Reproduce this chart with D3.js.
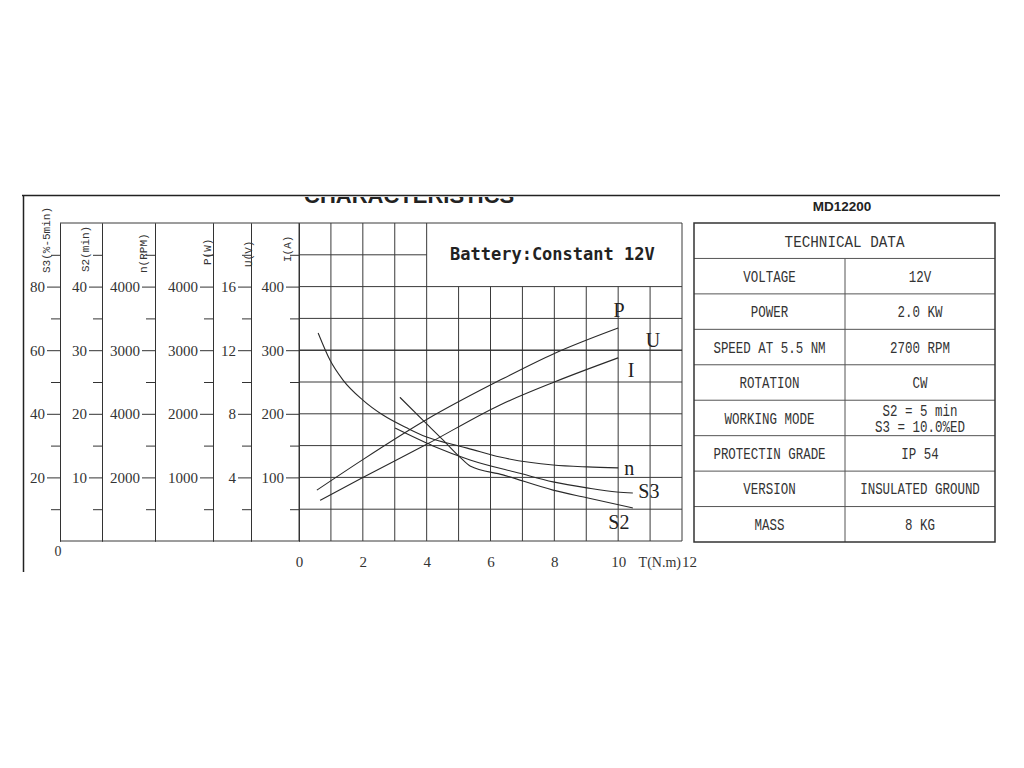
<!DOCTYPE html>
<html>

<head>
    <meta charset="utf-8">
    <style>
        body {
            margin: 0;
            background: #fff;
        }

        svg {
            display: block;
        }

        .left .tick text,
        .bottom .tick text {
            font-family: "Liberation Serif", serif;
            font-size: 15px;
            fill: #333;
        }

        .left .tick line,
        .left .domain {
            stroke: #333;
        }

        .grid line {
            stroke: #3a3a3a;
            stroke-width: 1;
        }

        .curve {
            fill: none;
            stroke: #2a2a2a;
            stroke-width: 1.1;
        }
    </style>
</head>

<body>
    <svg width="1024" height="768"></svg>
</body>

<script src="https://d3js.org/d3.v7.min.js"></script>

<script>

    // torque axis (N.m)
    let torqueTicks = [0, 2, 4, 6, 8, 10]

    // left hand axes
    let axisNames = ["S3(%-5min)", "S2(min)", "n(RPM)", "P(W)", "U(V)", "I(A)"]
    let axisMax = [100, 50, 5000, 5000, 20, 500]
    let s3Ticks = [80, 60, 40, 20]
    let s2Ticks = [40, 30, 20, 10]
    let nTicks = [4000, 3000, 2000, 1000]
    let nTickLabels = ["4000", "3000", "4000", "2000"]  // printed like this on the sheet
    let pTicks = [4000, 3000, 2000, 1000]
    let uTicks = [16, 12, 8, 4]
    let iTicks = [400, 300, 200, 100]

    // curves
    let pTorque = [0.56, 2, 4, 6.3, 8, 10]
    let pWatts = [800, 1280, 1910, 2530, 2950, 3350]

    let iTorque = [0.66, 2, 4, 6.3, 8, 10]
    let iAmps = [64, 100, 152, 214, 250, 288]

    let uTorque = [0, 12]
    let uVolts = [12, 12]

    let nTorque = [0.6, 0.97, 1.38, 2.0, 2.63, 3.39, 4.0, 4.64, 5.27, 6.3, 7.96, 9.03, 10]
    let nRpm = [3270, 2845, 2530, 2215, 1980, 1775, 1635, 1540, 1460, 1320, 1195, 1165, 1150]

    let s3Torque = [3.01, 4.2, 5.36, 6.92, 7.96, 9.02, 9.96, 10.46]
    let s3Percent = [35.5, 29.9, 25.5, 21.3, 18.6, 16.7, 15.4, 15.1]

    let s2Torque = [3.16, 3.88, 4.51, 5.04, 5.36, 6.39, 7.96, 9.02, 10.46]
    let s2Minutes = [22.6, 19.0, 15.9, 13.2, 11.8, 10.4, 8.0, 6.8, 5.2]

    // technical data table
    let tableTitle = "TECHNICAL DATA"
    let tableLabels = ["VOLTAGE", "POWER", "SPEED AT 5.5 NM", "ROTATION", "WORKING MODE",
        "PROTECTIN GRADE", "VERSION", "MASS"]
    let tableValues = [["12V"], ["2.0 KW"], ["2700 RPM"], ["CW"], ["S2 = 5 min", "S3 = 10.0%ED"],
        ["IP 54"], ["INSULATED GROUND"], ["8 KG"]]


    let svg = d3.select("svg")

    let x = d3.scaleLinear().domain([0, 12]).range([299, 682])
    let y = d3.scaleLinear().domain([0, 100]).range([541, 223])

    // frame of the sheet
    svg.append("line")
        .attr("x1", 22).attr("x2", 1000)
        .attr("y1", 195.5).attr("y2", 195.5)
        .style("stroke", "#222").style("stroke-width", 1.5)

    svg.append("line")
        .attr("x1", 23.5).attr("x2", 23.5)
        .attr("y1", 195).attr("y2", 572)
        .style("stroke", "#222").style("stroke-width", 1.5)

    // title, cut by the top of the scan
    svg.append("clipPath").attr("id", "cut")
        .append("rect").attr("x", 0).attr("y", 197).attr("width", 1024).attr("height", 100)

    svg.append("text")
        .attr("clip-path", "url(#cut)")
        .attr("x", 304)
        .attr("y", 203)
        .style("font-family", "Liberation Sans, sans-serif")
        .style("font-weight", "bold")
        .style("font-size", "22px")
        .style("fill", "#222")
        .text("CHARACTERISTICS")

    svg.append("text")
        .attr("x", 842)
        .attr("y", 211)
        .style("text-anchor", "middle")
        .style("font-family", "Liberation Sans, sans-serif")
        .style("font-weight", "bold")
        .style("font-size", "13.5px")
        .style("fill", "#222")
        .text("MD12200")


    // grid of the plot
    let grid = svg.append("g").attr("class", "grid")

    grid.selectAll(".vline")
        .data(x.ticks(12))
        .join("line")
        .attr("class", "vline")
        .attr("x1", function (d) { return x(d) })
        .attr("x2", function (d) { return x(d) })
        .attr("y1", function (d) { return d > 4 && d < 12 ? y(80) : y(100) })
        .attr("y2", y(0))

    grid.selectAll(".hline")
        .data(y.ticks(10))
        .join("line")
        .attr("class", "hline")
        .attr("x1", function (d) { return d == 0 || d == 100 ? 60 : x(0) })
        .attr("x2", function (d) { return d == 90 ? x(4) : x(12) })
        .attr("y1", function (d) { return y(d) })
        .attr("y2", function (d) { return y(d) })

    svg.append("text")
        .attr("x", 450)
        .attr("y", 260)
        .style("font-family", "DejaVu Sans Mono, monospace")
        .style("font-weight", "bold")
        .style("font-size", "17px")
        .style("fill", "#222")
        .text("Battery:Constant 12V")


    // left axes
    let axisTicks = [s3Ticks, s2Ticks, nTicks, pTicks, uTicks, iTicks]
    let axisTickLabels = [s3Ticks, s2Ticks, nTickLabels, pTicks, uTicks, iTicks]
    let axisX = [60, 102, 155, 213, 251, 299]
    let titleX = [46, 85, 143, 207, 248, 287]
    let titleBottom = [273, 272, 273, 265, 267, 262]

    let scales = axisMax.map(function (m) {
        return d3.scaleLinear().domain([0, m]).range([541, 223])
    })

    axisNames.forEach(function (name, i) {
        let sc = scales[i]
        let major = axisTicks[i]
        let minor = sc.ticks(10).filter(function (v) {
            return v > 0 && v < axisMax[i] && major.indexOf(v) < 0
        })

        let g = svg.append("g")
            .attr("class", "left axis")
            .attr("transform", `translate(${axisX[i]},0)`)

        g.call(d3.axisLeft(sc)
            .tickValues(major)
            .tickSize(13)
            .tickSizeOuter(0)
            .tickPadding(2)
            .tickFormat(function (d) { return axisTickLabels[i][major.indexOf(d)] }))

        g.append("g").call(d3.axisLeft(sc)
            .tickValues(minor)
            .tickSize(9)
            .tickSizeOuter(0)
            .tickFormat(""))

        g.append("text")
            .attr("transform", `translate(${titleX[i] - axisX[i]},${titleBottom[i]}) rotate(-90)`)
            .attr("dy", "0.35em")
            .style("text-anchor", "start")
            .style("font-family", "Liberation Mono, monospace")
            .style("font-size", "11px")
            .style("fill", "#333")
            .text(name)
    })

    svg.append("text")
        .attr("x", 58)
        .attr("y", 556)
        .style("text-anchor", "middle")
        .style("font-family", "Liberation Serif, serif")
        .style("font-size", "14px")
        .style("fill", "#333")
        .text("0")


    // torque axis
    let bottom = svg.append("g")
        .attr("class", "bottom axis")
        .attr("transform", `translate(0,${y(0)})`)
        .call(d3.axisBottom(x).tickValues(torqueTicks).tickSize(0).tickPadding(15))

    bottom.select(".domain").remove()

    svg.append("text")
        .attr("x", x(12) - 1)
        .attr("y", 567)
        .style("text-anchor", "end")
        .style("font-family", "Liberation Serif, serif")
        .style("font-size", "14px")
        .style("fill", "#333")
        .text("T(N.m)")

    svg.append("text")
        .attr("x", x(12))
        .attr("y", 567)
        .style("font-family", "Liberation Serif, serif")
        .style("font-size", "15px")
        .style("fill", "#333")
        .text("12")


    // curves
    let series = [
        { name: "P", torque: pTorque, values: pWatts, axis: 3 },
        { name: "U", torque: uTorque, values: uVolts, axis: 4 },
        { name: "I", torque: iTorque, values: iAmps, axis: 5 },
        { name: "n", torque: nTorque, values: nRpm, axis: 2 },
        { name: "S3", torque: s3Torque, values: s3Percent, axis: 0 },
        { name: "S2", torque: s2Torque, values: s2Minutes, axis: 1 }
    ]

    let labelOffset = {
        P: [1, -18], U: [-29, -10], I: [13, 12], n: [11, 0], S3: [16, -2], S2: [-14, 14]
    }

    series.forEach(function (s) {
        let sc = scales[s.axis]
        let pts = s.torque.map(function (t, j) { return [t, s.values[j]] })

        let line = d3.line()
            .x(function (d) { return x(d[0]) })
            .y(function (d) { return sc(d[1]) })
            .curve(d3.curveMonotoneX)

        svg.append("path")
            .datum(pts)
            .attr("class", "curve")
            .attr("d", line)

        let last = pts[pts.length - 1]
        svg.append("text")
            .attr("x", x(last[0]) + labelOffset[s.name][0])
            .attr("y", sc(last[1]) + labelOffset[s.name][1])
            .attr("dy", "0.35em")
            .style("text-anchor", "middle")
            .style("font-family", "Liberation Serif, serif")
            .style("font-size", "20px")
            .style("fill", "#222")
            .text(s.name)
    })


    // technical data table
    let tx = d3.scaleLinear().domain([0, 1, 2]).range([694, 845, 995])
    let ty = d3.scaleLinear().domain([0, 9]).range([223, 542])

    let table = svg.append("g").attr("class", "table")

    table.selectAll(".row-line")
        .data(d3.range(1, 9))
        .join("line")
        .attr("class", "row-line")
        .attr("x1", tx(0)).attr("x2", tx(2))
        .attr("y1", function (d) { return ty(d) })
        .attr("y2", function (d) { return ty(d) })
        .style("stroke", "#555")

    table.append("line")
        .attr("x1", tx(1)).attr("x2", tx(1))
        .attr("y1", ty(1)).attr("y2", ty(9))
        .style("stroke", "#555")

    table.append("rect")
        .attr("x", tx(0)).attr("y", ty(0))
        .attr("width", tx(2) - tx(0)).attr("height", ty(9) - ty(0))
        .style("fill", "none")
        .style("stroke", "#333")
        .style("stroke-width", 1.5)

    table.append("text")
        .attr("transform", `translate(${(tx(0) + tx(2)) / 2},${ty(0.5)}) scale(0.84,1)`)
        .attr("dy", "0.35em")
        .style("text-anchor", "middle")
        .style("font-family", "Liberation Mono, monospace")
        .style("font-size", "17px")
        .style("fill", "#333")
        .text(tableTitle)

    table.selectAll(".label")
        .data(tableLabels)
        .join("text")
        .attr("class", "label")
        .attr("transform", function (d, i) {
            return `translate(${(tx(0) + tx(1)) / 2},${ty(i + 1.5)}) scale(0.78,1)`
        })
        .attr("dy", "0.35em")
        .style("text-anchor", "middle")
        .style("font-family", "Liberation Mono, monospace")
        .style("font-size", "16px")
        .style("fill", "#333")
        .text(function (d) { return d })

    table.selectAll(".value")
        .data(tableValues)
        .join("text")
        .attr("class", "value")
        .attr("transform", function (d, i) {
            return `translate(${(tx(1) + tx(2)) / 2},${ty(i + 1.5)}) scale(0.78,1)`
        })
        .style("text-anchor", "middle")
        .style("font-family", "Liberation Mono, monospace")
        .style("font-size", "16px")
        .style("fill", "#333")
        .selectAll("tspan")
        .data(function (d) { return d })
        .join("tspan")
        .attr("x", 0)
        .attr("y", function (d, j, nodes) { return (j - (nodes.length - 1) / 2) * 16 })
        .attr("dy", "0.35em")
        .text(function (d) { return d })

</script>

</html>
